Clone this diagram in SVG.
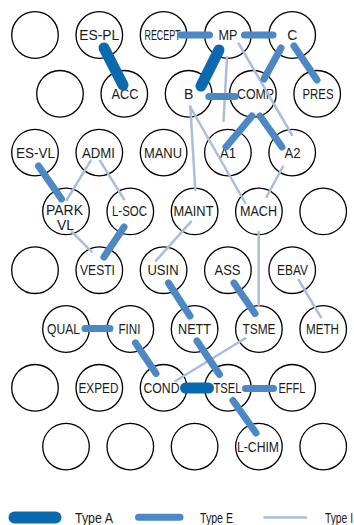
<svg xmlns="http://www.w3.org/2000/svg" width="354" height="525" viewBox="0 0 354 525">
  <style>
    .slot { fill: #ffffff; stroke: #000000; stroke-width: 1.3; }
    .lbl { font-family: "Liberation Sans", Arial, sans-serif; font-size: 14px; fill: #1a1a1a; text-anchor: middle; }
    .leg { font-family: "Liberation Sans", Arial, sans-serif; font-size: 14px; fill: #1a1a1a; }
    .ta { stroke: #0B69AF; stroke-width: 11; stroke-linecap: round; fill: none; }
    .te { stroke: #4C88C3; stroke-width: 7; stroke-linecap: round; fill: none; }
    .ti { stroke: #A9BDDF; stroke-width: 2.5; stroke-linecap: round; fill: none; }
  </style>

  <rect width="354" height="525" fill="#ffffff"/>

  <!-- layout grid: rows every 58.8px, columns every 64.3px, alternate rows shifted -->
  <g id="nodes">
    <!-- row 1 -->
    <g id="slot-1-1"><circle class="slot" cx="35" cy="35" r="23.3"/></g>
    <g id="n-ES-PL"><circle class="slot" cx="99.3" cy="35" r="23.3"/><text class="lbl" x="99.3" y="39.5" textLength="40" lengthAdjust="spacingAndGlyphs">ES-PL</text></g>
    <g id="n-RECEPT"><circle class="slot" cx="163.6" cy="35" r="23.3"/><text class="lbl" x="162.5" y="39.5" textLength="36" lengthAdjust="spacingAndGlyphs">RECEPT</text></g>
    <g id="n-MP"><circle class="slot" cx="227.9" cy="35" r="23.3"/><text class="lbl" x="227.9" y="39.5" textLength="19" lengthAdjust="spacingAndGlyphs">MP</text></g>
    <g id="n-C"><circle class="slot" cx="292.2" cy="35" r="23.3"/><text class="lbl" x="292.2" y="39.5">C</text></g>

    <!-- row 2 -->
    <g id="slot-2-1"><circle class="slot" cx="60" cy="93.8" r="23.3"/></g>
    <g id="n-ACC"><circle class="slot" cx="124.3" cy="93.8" r="23.3"/><text class="lbl" x="125" y="98.8" textLength="27" lengthAdjust="spacingAndGlyphs">ACC</text></g>
    <g id="n-B"><circle class="slot" cx="188.6" cy="93.8" r="23.3"/><text class="lbl" x="188.6" y="98.8">B</text></g>
    <g id="n-COMP"><circle class="slot" cx="252.9" cy="93.8" r="23.3"/><text class="lbl" x="255.5" y="98.8" textLength="37" lengthAdjust="spacingAndGlyphs">COMP</text></g>
    <g id="n-PRES"><circle class="slot" cx="317.2" cy="93.8" r="23.3"/><text class="lbl" x="318" y="98.8" textLength="31" lengthAdjust="spacingAndGlyphs">PRES</text></g>

    <!-- row 3 -->
    <g id="n-ES-VL"><circle class="slot" cx="35" cy="152.6" r="23.3"/><text class="lbl" x="35.5" y="157.6" textLength="39" lengthAdjust="spacingAndGlyphs">ES-VL</text></g>
    <g id="n-ADMI"><circle class="slot" cx="99.3" cy="152.6" r="23.3"/><text class="lbl" x="98.5" y="157.6" textLength="33" lengthAdjust="spacingAndGlyphs">ADMI</text></g>
    <g id="n-MANU"><circle class="slot" cx="163.6" cy="152.6" r="23.3"/><text class="lbl" x="163" y="157.6" textLength="38" lengthAdjust="spacingAndGlyphs">MANU</text></g>
    <g id="n-A1"><circle class="slot" cx="227.9" cy="152.6" r="23.3"/><text class="lbl" x="228" y="157.6" textLength="16" lengthAdjust="spacingAndGlyphs">A1</text></g>
    <g id="n-A2"><circle class="slot" cx="292.2" cy="152.6" r="23.3"/><text class="lbl" x="292.5" y="157.6" textLength="16" lengthAdjust="spacingAndGlyphs">A2</text></g>

    <!-- row 4 -->
    <g id="n-PARK-VL"><circle class="slot" cx="66" cy="211.4" r="23.3"/><text class="lbl" x="64.5" y="215" textLength="37" lengthAdjust="spacingAndGlyphs">PARK</text><text class="lbl" x="65.5" y="230">VL</text></g>
    <g id="n-L-SOC"><circle class="slot" cx="130.3" cy="211.4" r="23.3"/><text class="lbl" x="129.5" y="216.4" textLength="35" lengthAdjust="spacingAndGlyphs">L-SOC</text></g>
    <g id="n-MAINT"><circle class="slot" cx="194.6" cy="211.4" r="23.3"/><text class="lbl" x="193.5" y="216.4" textLength="40" lengthAdjust="spacingAndGlyphs">MAINT</text></g>
    <g id="n-MACH"><circle class="slot" cx="258.9" cy="211.4" r="23.3"/><text class="lbl" x="258.5" y="216.4" textLength="37" lengthAdjust="spacingAndGlyphs">MACH</text></g>
    <g id="slot-4-5"><circle class="slot" cx="323.2" cy="211.4" r="23.3"/></g>

    <!-- row 5 -->
    <g id="slot-5-1"><circle class="slot" cx="35" cy="270.2" r="23.3"/></g>
    <g id="n-VESTI"><circle class="slot" cx="99.3" cy="270.2" r="23.3"/><text class="lbl" x="97.5" y="275.2" textLength="35" lengthAdjust="spacingAndGlyphs">VESTI</text></g>
    <g id="n-USIN"><circle class="slot" cx="163.6" cy="270.2" r="23.3"/><text class="lbl" x="163" y="275.2" textLength="31" lengthAdjust="spacingAndGlyphs">USIN</text></g>
    <g id="n-ASS"><circle class="slot" cx="227.9" cy="270.2" r="23.3"/><text class="lbl" x="227.5" y="275.2" textLength="26" lengthAdjust="spacingAndGlyphs">ASS</text></g>
    <g id="n-EBAV"><circle class="slot" cx="292.2" cy="270.2" r="23.3"/><text class="lbl" x="292.5" y="275.2" textLength="31" lengthAdjust="spacingAndGlyphs">EBAV</text></g>

    <!-- row 6 -->
    <g id="n-QUAL"><circle class="slot" cx="66" cy="329" r="23.3"/><text class="lbl" x="63.5" y="334" textLength="33" lengthAdjust="spacingAndGlyphs">QUAL</text></g>
    <g id="n-FINI"><circle class="slot" cx="130.3" cy="329" r="23.3"/><text class="lbl" x="129.5" y="334" textLength="22" lengthAdjust="spacingAndGlyphs">FINI</text></g>
    <g id="n-NETT"><circle class="slot" cx="194.6" cy="329" r="23.3"/><text class="lbl" x="194.5" y="334" textLength="33" lengthAdjust="spacingAndGlyphs">NETT</text></g>
    <g id="n-TSME"><circle class="slot" cx="258.9" cy="329" r="23.3"/><text class="lbl" x="259" y="334" textLength="33" lengthAdjust="spacingAndGlyphs">TSME</text></g>
    <g id="n-METH"><circle class="slot" cx="323.2" cy="329" r="23.3"/><text class="lbl" x="322.5" y="334" textLength="33" lengthAdjust="spacingAndGlyphs">METH</text></g>

    <!-- row 7 -->
    <g id="slot-7-1"><circle class="slot" cx="35" cy="387.8" r="23.3"/></g>
    <g id="n-EXPED"><circle class="slot" cx="99.3" cy="387.8" r="23.3"/><text class="lbl" x="98.5" y="392.8" textLength="40" lengthAdjust="spacingAndGlyphs">EXPED</text></g>
    <g id="n-COND"><circle class="slot" cx="163.6" cy="387.8" r="23.3"/><text class="lbl" x="161.5" y="392.8" textLength="36" lengthAdjust="spacingAndGlyphs">COND</text></g>
    <g id="n-TSEL"><circle class="slot" cx="227.9" cy="387.8" r="23.3"/><text class="lbl" x="227.5" y="392.8" textLength="28" lengthAdjust="spacingAndGlyphs">TSEL</text></g>
    <g id="n-EFFL"><circle class="slot" cx="292.2" cy="387.8" r="23.3"/><text class="lbl" x="292" y="392.8" textLength="27" lengthAdjust="spacingAndGlyphs">EFFL</text></g>

    <!-- row 8 -->
    <g id="slot-8-1"><circle class="slot" cx="66" cy="446.6" r="23.3"/></g>
    <g id="slot-8-2"><circle class="slot" cx="130.3" cy="446.6" r="23.3"/></g>
    <g id="slot-8-3"><circle class="slot" cx="194.6" cy="446.6" r="23.3"/></g>
    <g id="n-L-CHIM"><circle class="slot" cx="258.9" cy="446.6" r="23.3"/><text class="lbl" x="258" y="451.6" textLength="42" lengthAdjust="spacingAndGlyphs">L-CHIM</text></g>
    <g id="slot-8-5"><circle class="slot" cx="323.2" cy="446.6" r="23.3"/></g>
  </g>

  <g id="connectors">
    <!-- type I (light) -->
    <line class="ti" x1="227" y1="57" x2="223.5" y2="121"/>
    <line class="ti" x1="238.7" y1="43.5" x2="292" y2="135"/>
    <line class="ti" x1="190.3" y1="106.5" x2="195.3" y2="190"/>
    <line class="ti" x1="190" y1="106.5" x2="245.3" y2="203"/>
    <line class="ti" x1="283" y1="166.5" x2="266.5" y2="197"/>
    <line class="ti" x1="90.7" y1="160.7" x2="66.7" y2="200"/>
    <line class="ti" x1="100" y1="160.7" x2="124" y2="199.3"/>
    <line class="ti" x1="71.7" y1="231.7" x2="91.7" y2="251.7"/>
    <line class="ti" x1="191" y1="221.7" x2="156" y2="260.7"/>
    <line class="ti" x1="258.7" y1="232" x2="258.7" y2="305"/>
    <line class="ti" x1="298.7" y1="280" x2="321" y2="317.3"/>
    <line class="ti" x1="245.3" y1="338.3" x2="175.5" y2="381"/>

    <!-- type E (medium) -->
    <line class="te" x1="181" y1="35" x2="209.5" y2="35"/>
    <line class="te" x1="244.5" y1="35" x2="273" y2="35"/>
    <line class="te" x1="281" y1="48" x2="264" y2="79"/>
    <line class="te" x1="294" y1="46" x2="317" y2="80"/>
    <line class="te" x1="208.8" y1="96.5" x2="235.2" y2="96.5"/>
    <line class="te" x1="252" y1="116" x2="226" y2="147"/>
    <line class="te" x1="260" y1="116" x2="282" y2="147"/>
    <line class="te" x1="38.5" y1="166" x2="61.5" y2="199"/>
    <line class="te" x1="124" y1="227" x2="104" y2="257"/>
    <line class="te" x1="168.5" y1="283" x2="190" y2="316"/>
    <line class="te" x1="234" y1="283" x2="255" y2="313.5"/>
    <line class="te" x1="85" y1="328.5" x2="110" y2="328.5"/>
    <line class="te" x1="135.5" y1="343" x2="156" y2="373.5"/>
    <line class="te" x1="197" y1="341" x2="219.5" y2="374.5"/>
    <line class="te" x1="245.5" y1="388.5" x2="273.5" y2="388.5"/>
    <line class="te" x1="233" y1="400.5" x2="256" y2="433"/>

    <!-- type A (heavy) -->
    <line class="ta" x1="104" y1="48" x2="123" y2="85"/>
    <line class="ta" x1="219" y1="50" x2="201" y2="86"/>
    <line class="ta" x1="185.5" y1="388" x2="208.5" y2="388"/>
  </g>

  <g id="legend">
    <line x1="14.5" y1="517.5" x2="55.5" y2="517.5" stroke="#0B69AF" stroke-width="12" stroke-linecap="round"/>
    <text class="leg" x="75" y="523" textLength="38" lengthAdjust="spacingAndGlyphs">Type A</text>
    <line class="te" x1="138.5" y1="517.3" x2="180" y2="517.3" stroke-width="6.7"/>
    <text class="leg" x="200" y="523" textLength="33" lengthAdjust="spacingAndGlyphs">Type E</text>
    <line class="ti" x1="264.5" y1="517.5" x2="306" y2="517.5"/>
    <text class="leg" x="325" y="523" textLength="28" lengthAdjust="spacingAndGlyphs">Type I</text>
  </g>
</svg>
